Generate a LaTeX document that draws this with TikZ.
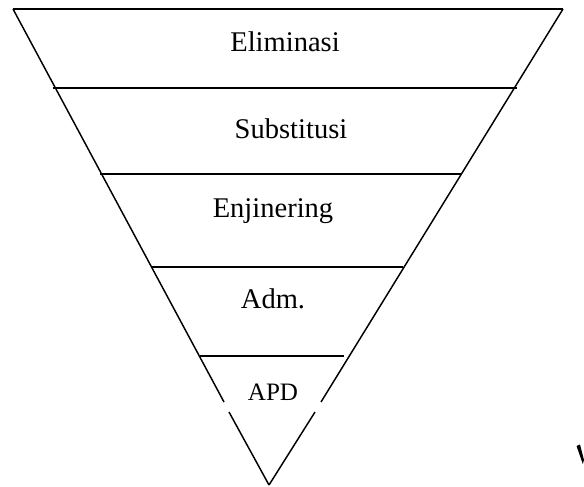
\documentclass[tikz,border=0pt]{standalone}
\usepackage{fontspec}
\setmainfont{Liberation Serif}
\usepackage{tikz}
\tikzset{lvl/.style={font=\fontsize{21.4}{24}\selectfont,inner sep=0pt,anchor=base},
lvlsmall/.style={lvl,font=\fontsize{18.8}{22}\selectfont}}
\begin{document}
\begin{tikzpicture}[x=0.75pt,y=-0.75pt,line width=1.1pt]
\useasboundingbox (0,0) rectangle (584,486);
\coordinate (tl) at (13,9);
\coordinate (tr) at (563,9);
\coordinate (apex) at (269,485);
\draw (tl)--(tr);
\draw (tl)--(224,402);
\draw (229,412)--(apex);
\draw (tr)--(321,402);
\draw (315,412)--(apex);
\draw (53,88)--(517,88);
\draw (100,174)--(462,174);
\draw (152,267)--(403,267);
\draw (200,356)--(344,356);
\node[lvl] (elim) at (285,51) {Eliminasi};
\node[lvl] (subs) at (291,138) {Substitusi};
\node[lvl] (enji) at (273,217) {Enjinering};
\node[lvl] (adm) at (273,308) {Adm.};
\node[lvlsmall] (apd) at (273,400) {APD};
\fill (576.5,446)--(580,444.5)--(584,460)--(582.8,464)--cycle;
\end{tikzpicture}
\end{document}
